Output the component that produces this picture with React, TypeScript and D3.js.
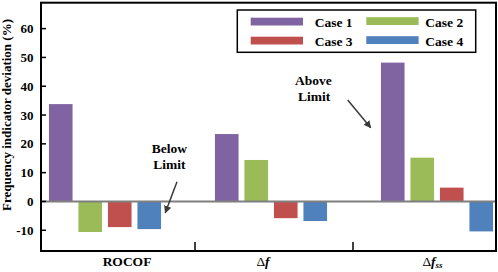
import React from "react";
import * as d3 from "d3";

const categories = ["ROCOF", "Δf", "Δfss"];
const cases = ["Case 1", "Case 2", "Case 3", "Case 4"];
const case1 = [33.8, 23.4, 48.2];
const case2 = [-10.6, 14.4, 15.2];
const case3 = [-8.9, -5.8, 4.8];
const case4 = [-9.6, -6.8, -10.4];
const yTicks = [-10, 0, 10, 20, 30, 40, 50, 60];
const colors = ["#8064A2", "#9BBB59", "#C0504D", "#4F81BD"];

const W = 498;
const H = 272;
const frame = { left: 41, right: 496, top: 2.7, bottom: 251 };
const FONT = "Liberation Serif, Tinos, Times New Roman, DejaVu Serif, serif";

export default function App() {
  const series = [case1, case2, case3, case4];
  const y = d3.scaleLinear().domain([-17.2, 69]).range([frame.bottom, frame.top]);
  const xGroup = d3.scaleBand<string>().domain(categories).range([22, 520]).padding(0);
  const xCase = d3
    .scaleBand<string>()
    .domain(cases)
    .range([-59, 59])
    .paddingInner(0.2)
    .paddingOuter(0.1);
  const center = (c: string) => (xGroup(c) as number) + xGroup.bandwidth() / 2;
  const labelNudge = [22, -8, -4.5];
  const sepNudge = [7, -1];
  const y0 = y(0);
  const ts = { fontFamily: FONT } as React.CSSProperties;

  const bars: JSX.Element[] = [];
  categories.forEach((cat, ci) => {
    cases.forEach((cs, si) => {
      const v = series[si][ci];
      const x0 = center(cat) + (xCase(cs) as number);
      bars.push(
        <rect
          key={cat + cs}
          x={x0}
          y={Math.min(y(v), y0)}
          width={xCase.bandwidth()}
          height={Math.abs(y(v) - y0)}
          fill={colors[si]}
        />
      );
    });
  });

  const separators = categories.slice(0, -1).map((c, i) => (xGroup(c) as number) + xGroup.step() + sepNudge[i]);

  const renderCatLabel = (c: string, i: number) => {
    const cx = center(c) + labelNudge[i];
    const ty = 265.5;
    if (c === "ROCOF") {
      return (
        <text key={c} x={cx} y={ty} textAnchor="middle" style={ts} fontWeight="bold" fontSize={13.5}>
          ROCOF
        </text>
      );
    }
    if (c === "Δf") {
      return (
        <text key={c} x={cx} y={ty} textAnchor="middle" style={ts} fontSize={13.5}>
          Δ<tspan fontStyle="italic" fontWeight="bold">f</tspan>
        </text>
      );
    }
    return (
      <text key={c} x={cx} y={ty} textAnchor="middle" style={ts} fontSize={13.5}>
        Δ<tspan fontStyle="italic" fontWeight="bold">f</tspan>
        <tspan fontStyle="italic" fontWeight="bold" fontSize={9} dy={2}>ss</tspan>
      </text>
    );
  };

  const legendPos = [
    { sx: 250.7, tx: 314.7, sy: 17.7, ty: 27 },
    { sx: 366.3, tx: 425.3, sy: 17.2, ty: 26.5 },
    { sx: 250.7, tx: 314.7, sy: 36.7, ty: 46 },
    { sx: 366.3, tx: 425.3, sy: 36.2, ty: 45.5 },
  ];

  return (
    <svg
      width={W}
      height={H}
      style={{ position: "absolute", left: 0, top: 0, background: "#fff" }}
    >
      <defs>
        <marker id="arr" viewBox="0 0 10 10" refX="9" refY="5" markerWidth="5" markerHeight="5" orient="auto">
          <path d="M0,0 L10,5 L0,10 z" fill="#3a3a3a" />
        </marker>
      </defs>
      <rect x={0} y={0} width={W} height={H} fill="#fff" />
      {bars}
      <line x1={frame.left} x2={frame.right} y1={y0} y2={y0} stroke="#7f7f7f" strokeWidth={2} />
      <rect
        x={frame.left}
        y={frame.top}
        width={frame.right - frame.left}
        height={frame.bottom - frame.top}
        fill="none"
        stroke="#000"
        strokeWidth={2}
      />
      {yTicks.map((t) => (
        <g key={t}>
          <line x1={frame.left} x2={frame.left + 5} y1={y(t)} y2={y(t)} stroke="#000" strokeWidth={1.5} />
          <text x={33.5} y={y(t)} dy="0.35em" textAnchor="end" style={ts} fontWeight="bold" fontSize={13}>
            {t}
          </text>
        </g>
      ))}
      {separators.map((sx, i) => (
        <line key={i} x1={sx} x2={sx} y1={frame.bottom} y2={frame.bottom - 9} stroke="#000" strokeWidth={1.5} />
      ))}
      {categories.map(renderCatLabel)}
      <text
        transform={`translate(11,115) rotate(-90)`}
        textAnchor="middle"
        style={ts}
        fontWeight="bold"
        fontSize={13}
      >
        Frequency indicator deviation (%)
      </text>
      <rect x={237.3} y={10} width={238.4} height={42.3} fill="#fff" stroke="#000" strokeWidth={1.5} />
      {cases.map((c, i) => (
        <g key={c}>
          <rect x={legendPos[i].sx} y={legendPos[i].sy} width={52.3} height={7.8} fill={colors[i]} />
          <text x={legendPos[i].tx} y={legendPos[i].ty} style={ts} fontWeight="bold" fontSize={13.5}>
            {c}
          </text>
        </g>
      ))}
      <text x={313.3} y={85} textAnchor="middle" style={ts} fontWeight="bold" fontSize={13.5}>
        Above
      </text>
      <text x={314} y={101} textAnchor="middle" style={ts} fontWeight="bold" fontSize={13.5}>
        Limit
      </text>
      <line x1={347.7} y1={100} x2={370.7} y2={127.7} stroke="#3a3a3a" strokeWidth={1.5} markerEnd="url(#arr)" />
      <text x={169.3} y={152.8} textAnchor="middle" style={ts} fontWeight="bold" fontSize={13.5}>
        Below
      </text>
      <text x={169.3} y={168.8} textAnchor="middle" style={ts} fontWeight="bold" fontSize={13.5}>
        Limit
      </text>
      <line x1={177} y1={181.7} x2={165.3} y2={212.7} stroke="#3a3a3a" strokeWidth={1.5} markerEnd="url(#arr)" />
    </svg>
  );
}
